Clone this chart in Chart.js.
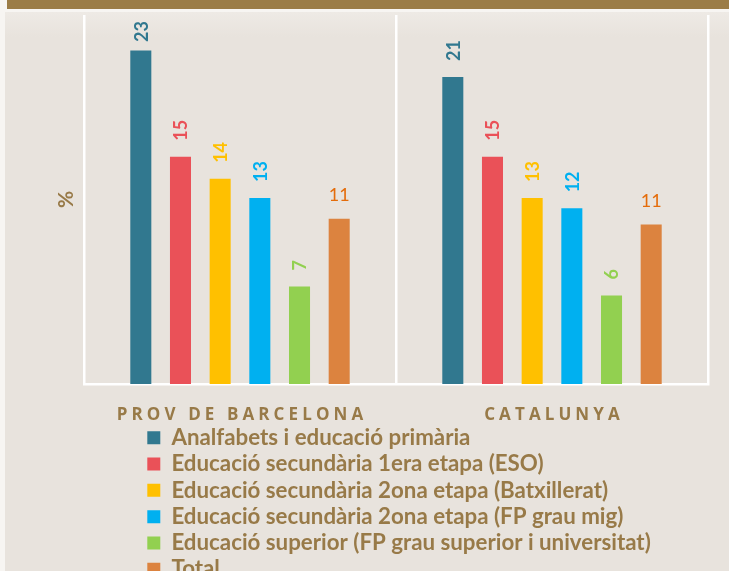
<!DOCTYPE html>
<html><head><meta charset="utf-8">
<script src="https://cdn.jsdelivr.net/npm/chart.js@4.4.1/dist/chart.umd.min.js"></script>
<style>
html,body{margin:0;padding:0;overflow:hidden;width:729px;height:571px;background:#f7f5f2;}
#band{position:absolute;left:7px;top:0;width:722px;height:9px;background:#9b7c46;}
#panel{position:absolute;left:5px;top:12px;width:724px;height:600px;background:linear-gradient(#eeeae5,#e8e3dd 25px);}
#wrap{position:absolute;left:0;top:0;width:729px;height:600px;}
</style></head><body>
<div id="band"></div><div id="panel"></div>
<div id="wrap"><canvas id="c" width="729" height="600"></canvas></div>
<script>
const categories = ['PROV DE BARCELONA', 'CATALUNYA'];
const seriesNames = [
  'Analfabets i educació primària',
  'Educació secundària 1era etapa (ESO)',
  'Educació secundària 2ona etapa (Batxillerat)',
  'Educació secundària 2ona etapa (FP grau mig)',
  'Educació superior (FP grau superior i universitat)',
  'Total'
];
const analfabets = [22.6, 20.8];
const eso = [15.4, 15.4];
const batxillerat = [13.9, 12.6];
const fpMig = [12.6, 11.9];
const superior = [6.6, 6.0];
const total = [11.2, 10.8];
const yTitle = '%';
const yMin = 0, yMax = 25;

const BROWN = '#987a48';
const colors = ['#31788f', '#ea5158', '#ffc000', '#00b0f0', '#92d050', '#dc833f'];
const labelColors = ['#31788f', '#ea5158', '#ffc000', '#00b0f0', '#92d050', '#e46c0a'];
const seriesValues = [analfabets, eso, batxillerat, fpMig, superior, total];

const datasets = seriesNames.map((name, i) => ({
  label: name,
  data: seriesValues[i],
  backgroundColor: colors[i],
  borderWidth: 0,
  categoryPercentage: 0.763,
  barPercentage: 0.53,
  labelColor: labelColors[i],
  labelRotate: i < 5
}));

const valueLabels = {
  id: 'valueLabels',
  afterDatasetsDraw(chart) {
    const ctx = chart.ctx;
    const top = chart.chartArea.top;
    chart.data.datasets.forEach((ds, di) => {
      const meta = chart.getDatasetMeta(di);
      meta.data.forEach((bar, i) => {
        const txt = String(Math.round(ds.data[i]));
        ctx.save();
        ctx.fillStyle = ds.labelColor;
        if (ds.labelRotate) {
          ctx.font = 'bold 18px Lato';
          const w = ctx.measureText(txt).width;
          let a = bar.y - 16;
          if (a - w < top + 6) a = top + 6 + w;
          ctx.translate(bar.x, a);
          ctx.rotate(-Math.PI / 2);
          ctx.textAlign = 'left';
          ctx.textBaseline = 'middle';
          ctx.fillText(txt, 0, 1);
        } else {
          ctx.font = '18px Lato';
          ctx.textAlign = 'center';
          ctx.textBaseline = 'alphabetic';
          ctx.fillText(txt, bar.x, bar.y - 17.5);
        }
        ctx.restore();
      });
    });
  }
};

const catLabels = {
  id: 'catLabels',
  afterDraw(chart) {
    const ctx = chart.ctx, xs = chart.scales.x;
    ctx.save();
    ctx.font = 'bold 17px "Open Sans"';
    ctx.letterSpacing = '4.1px';
    ctx.fillStyle = BROWN;
    ctx.textAlign = 'center';
    ctx.textBaseline = 'alphabetic';
    chart.data.labels.forEach((l, i) => {
      ctx.fillText(l, xs.getPixelForValue(i) + 2, 420);
    });
    ctx.restore();
  }
};

const legendPlace = {
  id: 'legendPlace',
  beforeDraw(chart) {
    const lg = chart.legend;
    lg.left = 143.3; lg.right = 680; lg.top = 422.6; lg.bottom = 600;
  }
};

new Chart(document.getElementById('c'), {
  type: 'bar',
  data: { labels: categories, datasets },
  options: {
    responsive: false,
    animation: false,
    devicePixelRatio: 1,
    layout: { padding: { top: 15, left: 54, right: 21, bottom: 128.5 } },
    scales: {
      x: {
        grid: { color: '#ffffff', lineWidth: 2.5, drawTicks: false, offset: true },
        border: { color: '#ffffff', width: 2.5 },
        ticks: { display: false },
        afterFit(s) { s.height = 37.5; }
      },
      y: {
        min: yMin, max: yMax,
        grid: { display: false },
        border: { display: false },
        ticks: { display: false },
        title: { display: true, text: yTitle, color: BROWN, font: { family: 'Lato', weight: 'bold', size: 21 }, padding: { top: 0, bottom: 0 } },
        afterFit(s) { s.width = 30; }
      }
    },
    plugins: {
      legend: {
        position: 'bottom',
        align: 'start',
        maxHeight: 50,
        labels: {
          boxWidth: 13, boxHeight: 13, padding: 4,
          color: BROWN,
          font: { family: 'Lato', weight: 'bold', size: 22.3 }
        }
      },
      tooltip: { enabled: false }
    }
  },
  plugins: [legendPlace, valueLabels, catLabels]
});
</script>
</body></html>
